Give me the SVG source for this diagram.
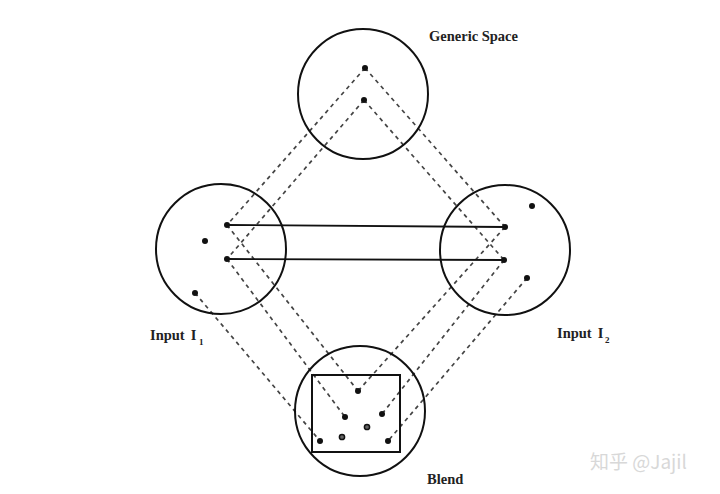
<svg xmlns="http://www.w3.org/2000/svg" width="720" height="494" viewBox="0 0 720 494">
<style>
.c{fill:none;stroke:#111;stroke-width:2}
.d{fill:#111}
.r{fill:#666;stroke:#111;stroke-width:1.5}
.dash{stroke:#444;stroke-width:1.7;stroke-dasharray:4 4;fill:none}
.solid{stroke:#111;stroke-width:1.8;fill:none}
.t{font-family:"Liberation Serif",serif;font-size:14.5px;fill:#222;font-weight:bold}
.s{font-family:"Liberation Serif",serif;font-size:9px;fill:#222;font-weight:bold}
.w{font-family:"Noto Sans CJK SC","Noto Sans",sans-serif;font-size:19px;fill:#d8d8d8}
</style>
<rect width="720" height="494" fill="#fff"/>
<g id="connectors">
<path class="dash" d="M365 68 L227 225 M365 68 L505 227 M364 100 L227 259 M364 100 L504 260"/>
<path class="dash" d="M227 225 L358 391 M227 259 L345 417 M195 293 L320 441"/>
<path class="dash" d="M505 227 L358 391 M504 260 L382 414 M527 278 L388 441"/>
<path class="solid" d="M227 225 L505 227 M227 259 L504 260"/>
</g>
<g id="generic">
<circle class="c" cx="363" cy="94" r="65"/>
<circle class="d" cx="365" cy="68" r="3"/>
<circle class="d" cx="364" cy="100" r="3"/>
<text class="t" x="429" y="41">Generic Space</text>
</g>
<g id="input1">
<circle class="c" cx="221" cy="249" r="65"/>
<circle class="d" cx="227" cy="225" r="3"/>
<circle class="d" cx="227" cy="259" r="3"/>
<circle class="d" cx="205" cy="241" r="3"/>
<circle class="d" cx="195" cy="293" r="3"/>
<text class="t" x="150" y="340">Input<tspan dx="6">I</tspan></text><text class="s" x="199" y="345">1</text>
</g>
<g id="input2">
<circle class="c" cx="505" cy="250" r="65"/>
<circle class="d" cx="505" cy="227" r="3"/>
<circle class="d" cx="504" cy="260" r="3"/>
<circle class="d" cx="532" cy="206" r="3"/>
<circle class="d" cx="527" cy="278" r="3"/>
<text class="t" x="557" y="338">Input<tspan dx="6">I</tspan></text><text class="s" x="605" y="343">2</text>
</g>
<g id="blend">
<circle class="c" cx="360" cy="411" r="65"/>
<rect class="c" x="312" y="375" width="88" height="77"/>
<circle class="d" cx="358" cy="391" r="3"/>
<circle class="d" cx="345" cy="417" r="3"/>
<circle class="d" cx="382" cy="414" r="3"/>
<circle class="r" cx="367" cy="427" r="2.6"/>
<circle class="r" cx="342" cy="437" r="2.6"/>
<circle class="d" cx="320" cy="441" r="3"/>
<circle class="d" cx="388" cy="441" r="3"/>
<text class="t" x="427" y="484">Blend</text>
</g>
<text class="w" x="590" y="469">知乎 @Jajil</text>
</svg>
